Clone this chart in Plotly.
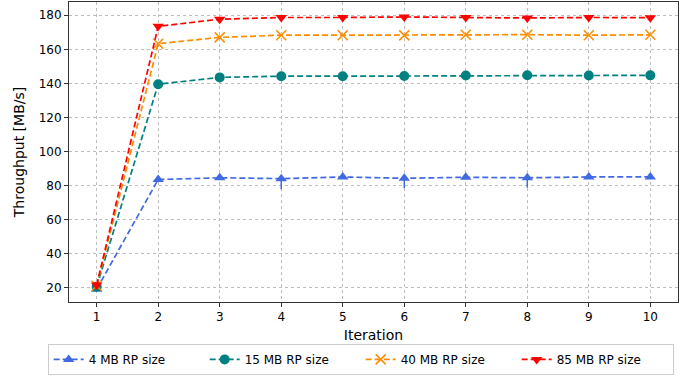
import plotly.graph_objects as go

iterations = [1, 2, 3, 4, 5, 6, 7, 8, 9, 10]
series_names = ["4 MB RP size", "15 MB RP size", "40 MB RP size", "85 MB RP size"]
tp_4mb = [19.0, 83.5, 84.5, 84.0, 85.0, 84.2, 84.8, 84.5, 85.0, 85.0]
tp_15mb = [20.5, 139.5, 143.5, 144.2, 144.2, 144.3, 144.6, 144.8, 144.6, 144.7]
tp_40mb = [21.0, 163.3, 167.0, 168.3, 168.3, 168.2, 168.5, 168.6, 168.3, 168.5]
tp_85mb = [21.5, 173.5, 177.7, 178.7, 178.7, 179.0, 178.7, 178.4, 178.7, 178.6]
err_4mb_minus = [0.5, 0.5, 0.5, 6.2, 0.5, 5.8, 0.5, 5.8, 0.5, 0.5]
err_4mb_plus = [0.5, 0.5, 0.5, 0.5, 0.5, 0.5, 0.5, 0.5, 0.5, 0.5]

colors = ["#4169E1", "#008080", "#FF8C00", "#FF0000"]
symbols = ["triangle-up", "circle", "x-thin-open", "triangle-down"]

fig = go.Figure()
all_vals = [tp_4mb, tp_15mb, tp_40mb, tp_85mb]
for i, (name, vals) in enumerate(zip(series_names, all_vals)):
    kw = {}
    if i == 0:
        kw["error_y"] = dict(type="data", symmetric=False, array=err_4mb_plus,
                             arrayminus=err_4mb_minus, color=colors[0], thickness=1.5, width=0)
    mk = dict(symbol=symbols[i], size=10, color=colors[i])
    if i == 2:
        mk["line"] = dict(color=colors[i], width=1.5)
    fig.add_trace(go.Scatter(
        x=iterations, y=vals, name=name, mode="lines+markers",
        line=dict(color=colors[i], width=1.7, dash="6px,3px"),
        marker=mk, **kw))

axis_common = dict(
    showline=True, mirror=True, linecolor="#333333", linewidth=1,
    ticks="outside", ticklen=4, tickcolor="#333333",
    showgrid=True, gridcolor="#bdbdbd", griddash="dot", gridwidth=1,
    zeroline=False, tickfont=dict(size=12, color="#000000"),
)

fig.update_layout(
    width=694, height=377,
    margin=dict(l=69, r=16, t=2, b=75, autoexpand=False),
    paper_bgcolor="white", plot_bgcolor="white",
    font=dict(family="DejaVu Sans", size=12, color="#000000"),
    xaxis=dict(range=[0.55, 10.45], tickvals=iterations,
               title=dict(text="Iteration", standoff=6), **axis_common),
    yaxis=dict(range=[11.5, 187.8], tickvals=[20, 40, 60, 80, 100, 120, 140, 160, 180],
               title=dict(text="Throughput [MB/s]", standoff=10), **axis_common),
    legend=dict(orientation="h", x=-0.035, y=-0.243, xanchor="left", yanchor="bottom",
                bordercolor="#cccccc", borderwidth=1, entrywidth=111, entrywidthmode="pixels",
                font=dict(size=12), bgcolor="white", tracegroupgap=0),
    showlegend=True,
)

fig.write_html("out.html", config={"displayModeBar": False},
               post_script="document.body.style.margin='0';document.body.style.overflow='hidden';")
